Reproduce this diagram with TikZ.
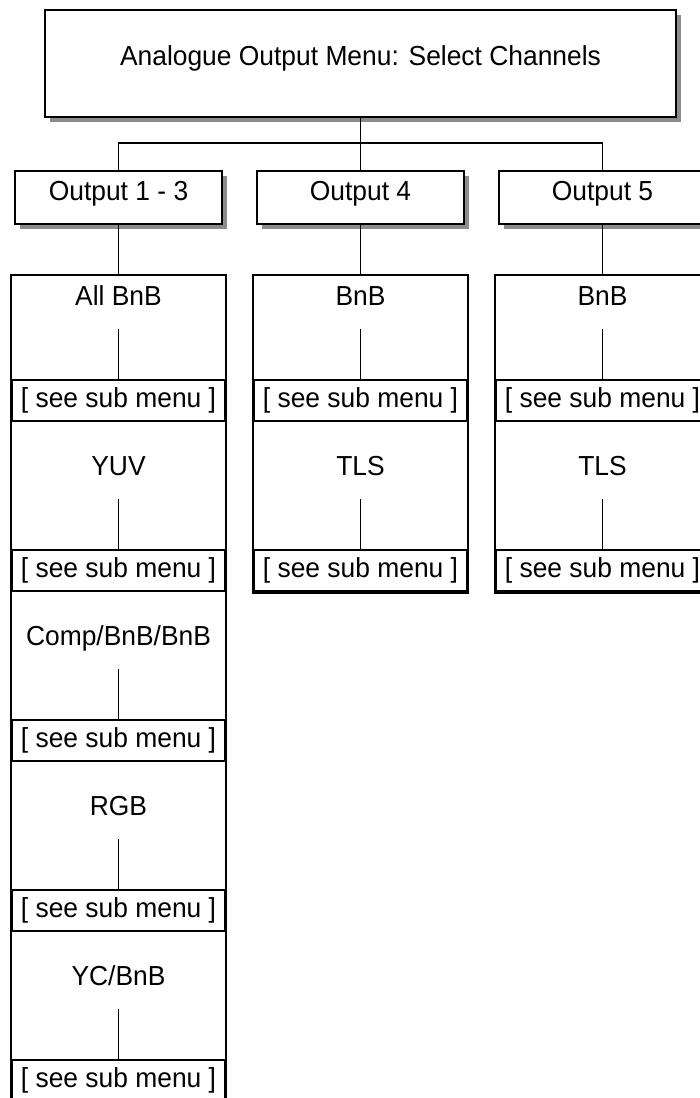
\documentclass[tikz,border=0pt]{standalone}
\usepackage{fontspec}
\setmainfont{Liberation Sans}[FakeStretch=0.96]
\usetikzlibrary{shadows}

\begin{document}
\begin{tikzpicture}[x=1pt,y=-1pt,
  every node/.style={font=\fontsize{27.5}{31}\selectfont,text height=19pt,text depth=6pt,inner sep=0pt},
  box/.style={draw,line width=1.3pt,fill=white},
  shadowed/.style={box,drop shadow={shadow xshift=5pt,shadow yshift=-5pt,fill=black!45,opacity=1}},
  menubox/.style={shadowed,minimum width=631pt,minimum height=107pt,text depth=16pt},
  outbox/.style={shadowed,minimum width=207pt,minimum height=53pt,text depth=14pt},
  colbox/.style={box,minimum width=215pt},
  subbox/.style={box,minimum width=212pt,minimum height=41pt},
  link/.style={line width=1.3pt}]
  \useasboundingbox (0,0) rectangle (700,1098);
  \clip (0,0) rectangle (700,1098);

  % Draw top menu
  \node[menubox] (menu) at (360.5,63.5) {Analogue Output Menu: Select Channels};

  % Draw output boxes
  \node[outbox] (out1) at (118.5,197.5) {Output 1 - 3};
  \node[outbox] (out2) at (360.5,197.5) {Output 4};
  \node[outbox] (out3) at (602.5,197.5) {Output 5};

  % Connect menu to outputs
  \coordinate (bus) at (360.5,143);
  \draw[link] (menu.south) -- (bus) -- (out2.north);
  \draw[link] (out1.north) |- (bus) -| (out3.north);

  % Draw channel columns
  \node[colbox,minimum height=860pt] (col1) at (118.5,705) {};
  \node[colbox,minimum height=318pt] (col2) at (360.5,434) {};
  \node[colbox,minimum height=318pt] (col3) at (602.5,434) {};
  \foreach \c in {1,2,3}
    \draw[link] (out\c.south) -- (col\c.north);

  % Entries of Output 1 - 3
  \foreach \name [count=\i] in {All BnB,YUV,Comp/BnB/BnB,RGB,YC/BnB} {
    \node (lab1\i) at (118.5,298.5+170*\i-170) {\name};
    \node[subbox] (sub1\i) at (118.5,400.5+170*\i-170) {[ see sub menu ]};
    \coordinate (top1\i) at ([yshift=50pt]sub1\i.north);
    \draw[link] (top1\i) -- (sub1\i.north);
  }

  % Entries of Output 4 and Output 5
  \foreach \c/\x in {2/360.5,3/602.5}
    \foreach \name [count=\i] in {BnB,TLS} {
      \node (lab\c\i) at (\x,298.5+170*\i-170) {\name};
      \node[subbox] (sub\c\i) at (\x,400.5+170*\i-170) {[ see sub menu ]};
      \coordinate (top\c\i) at ([yshift=50pt]sub\c\i.north);
      \draw[link] (top\c\i) -- (sub\c\i.north);
    }
\end{tikzpicture}
\end{document}
